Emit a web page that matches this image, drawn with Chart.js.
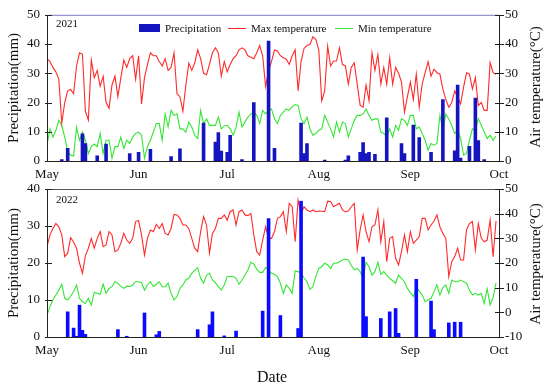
<!DOCTYPE html>
<html>
<head>
<meta charset="utf-8">
<script src="https://cdn.jsdelivr.net/npm/chart.js@4.4.1/dist/chart.umd.min.js"></script>
<style>
  body { margin: 0; background: #fff; }
  #wrap { position: relative; width: 550px; height: 387px; font-family: "Liberation Serif", "Times New Roman", serif; color: #111; }
  canvas { position: absolute; left: 0; top: 0; }
  .txt { position: absolute; white-space: nowrap; line-height: 1; }
  .rot { transform: translate(-50%, -50%) rotate(-90deg); font-size: 15px; }
  .leg { position: absolute; top: 22px; font-size: 11px; line-height: 12px; display: flex; align-items: center; }
  .box { display: inline-block; width: 21px; height: 8px; background: #1515c0; margin-right: 5px; }
  .ln { display: inline-block; width: 18px; height: 1px; margin-right: 5px; }
</style>
</head>
<body>
<div id="wrap">
  <canvas id="c21" width="550" height="387"></canvas>
  <canvas id="c22" width="550" height="387"></canvas>

  <div class="txt" style="left:56px;top:18px;font-size:11px;">2021</div>
  <div class="txt" style="left:56px;top:194px;font-size:11px;">2022</div>

  <div class="leg" style="left:139px;"><span class="box"></span>Precipitation</div>
  <div class="leg" style="left:228px;"><span class="ln" style="background:#ff2a2a"></span>Max temperature</div>
  <div class="leg" style="left:335px;"><span class="ln" style="background:#33e633"></span>Min temperature</div>

  <div class="txt rot" style="left:535px;top:87px;">Air temperature(°C)</div>
  <div class="txt rot" style="left:535px;top:264px;">Air temperature(°C)</div>
  <div class="txt" style="left:257px;top:369px;font-size:16px;">Date</div>
</div>

<script>
// x axis: day index from 1 May (0) to 1 Oct (153)
const monthTicks = [0, 31, 61, 92, 123, 153];
const monthLabels = ["May", "Jun", "Jul", "Aug", "Sep", "Oct"];

// 2021 daily max / min air temperature (°C), 1 May .. 30 Sep
const max21 = [35,34,32,30.5,28,13,20,24,24.5,23,
  32.5,37,36.5,17,14,34.5,28.5,31,25.5,29,
  20,18,26,29,22,28.5,34.5,32,35,36,
  28,36,19.5,28.5,33,37,36,36,34,32.5,
  35,31,32,37,23,22,17,26,33.5,31,
  33.5,38,35,30,29.5,33,37,38.7,37,29,
  34,30.5,33,35,36,38,38.7,38,36,35.5,
  35,37,39.5,36,25.5,31,34,38,37.6,36,
  35.3,34.8,33,36,38,24,34,38.5,39.5,39.8,
  42.5,41.5,38,20.6,24,39.3,32.5,34.2,34.2,38.7,
  33,32.5,26.3,32,33.6,26.3,19,18.4,26,20.6,
  37,31,36.4,26.3,32,26.3,35.3,26.3,32,30,
  27,16.7,22,27,21,29.7,18.4,26.3,30.2,34,
  29,31.4,30.2,29.7,24.6,21,18.4,20,24,21.8,
  19.5,25.2,30.2,29.7,24.6,28.5,19,20,17.3,17.3,
  33.6,30.2,29.7];
const min21 = [5.4,11,8.2,10.5,13.9,12.2,8.2,3.2,2,1.7,
  11.6,7.1,9.9,7.1,2.6,4.9,5.8,4.9,9.4,2.6,
  7.1,7.1,0.9,4.9,4.9,8.2,4.3,7.1,6,8.2,
  9.4,9.9,8.8,0.9,4.9,7.1,9.9,12.8,12.8,7.1,
  16.1,11.6,17.3,15.6,16.1,11,11,9.9,13.3,11.6,
  8.8,7.7,17.3,12.8,14.4,12.2,12.2,12.2,15,11,
  12,12.2,11,8.8,11.6,16.7,11.6,13.3,15,16,
  16.7,15.6,12.8,17.3,16.1,17.3,17.8,14.4,12.8,15.6,
  16.7,17.8,17.3,18.6,19.3,19,14.4,12.8,15,11,
  8.8,9.4,10.5,11,15.6,13.3,11,8.2,13.3,9.9,
  13.3,12.8,8.2,11,13.9,15.6,15.6,16.1,17.8,15.6,
  13.9,14.4,14.4,9.9,9.4,8.2,11,8.2,12.2,10.5,
  14.4,13.9,12.2,15.6,15.6,11,11.6,9.4,7.1,3.7,
  6,5.4,6,15.6,10.5,16.1,14.4,12.2,9.4,10.5,
  7.7,2,2.6,7.1,11,10.5,14.4,12.2,9.9,7.7,
  8.8,7.1,8.5];
// 2021 rain days (day index) and amounts (mm)
const rainDay21 = [5,7,12,13,17,20,28,31,35,42,45,53,57,58,59,61,62,66,70,75,77,86,87,88,94,101,102,106,107,108,109,111,115,120,121,124,126,130,134,138,139,140,143,145,146,148];
const rainMm21 = [0.5,4.3,9.3,6,1.8,5.8,2.5,3,4,1.5,4.2,13,6.5,9.7,3.4,3,8.8,0.5,20,41,4.3,13,2.5,6,0.3,0.3,1.8,3,6.3,2.5,3,2.3,14.8,6,2.5,12.3,8,3,21,3.5,26,1,5,21.5,7,0.5];

// 2022
const max22 = [26.6,31.4,34,36,34.7,31.4,22.6,24,30.3,28.5,
  26,20,15.8,23,26,30,26,30,32.7,26.6,
  27.3,32.7,31.4,24.6,25.3,28,32,29.3,28,30,
  36.8,37.2,31.4,23.2,30,33.4,32.7,35.7,34,36,
  32,31.4,34,39.7,39.5,38.1,35.4,35.4,34,30,
  26,24.6,32.7,38.8,35.4,24,32,34,38.1,38.1,
  39.5,37.4,40.8,41.5,35.4,40.8,41.5,39.5,39.2,40.1,
  31.4,24.6,23.2,29.3,34.7,30,30,32.7,38.1,38.8,
  40.8,32.7,44.2,42.8,28.6,45.5,40.1,42.8,41.5,40.8,
  41.5,40.8,41.1,41,40.8,45.1,44.9,42.8,43.5,44.2,
  41.5,40.8,41.1,42.8,44.2,25.3,33.4,39.5,32.7,28.6,
  34.7,35.4,41.5,28.6,36.8,20.5,30,30.7,21.9,19.2,
  24.6,31.4,24.6,32.7,28,29.3,30.7,38.1,38.1,33.4,
  35.4,37,39.5,34.7,32,30,14.5,20.5,22.6,26,
  21.2,21.2,33.4,36,36.8,25.3,36,30,28.6,29.3,
  37.4,22.6,37];
const min22 = [-1.1,2.3,5,7,9,11.4,5.7,5,6.5,8.4,
  11.1,5.7,4.3,3.6,5.7,3,8.1,7.7,7.3,11.4,
  7.7,9.7,10.4,12.4,11.8,10.4,9.7,10.6,10.4,11.1,
  12.4,12.4,12,9,11.1,12.4,10.4,11.4,12.4,10.4,
  10.4,11.8,7.7,5,6.4,9.7,11.1,13.1,13.8,15.8,
  17,18.1,13.8,11.8,15.1,15.8,13.1,12,10.4,9,
  11.1,14.5,14.5,14.5,13.8,11.4,13.1,15.1,17.2,20.3,
  19.6,17.5,16.2,16.2,18.2,16.8,15.8,15.4,14.5,11.8,
  7.7,11.1,9.7,7.7,16.8,16.5,15.8,14,12.4,9.3,
  10.4,14.5,17.8,18.5,19.9,19.2,17.8,19.9,19.9,20.5,
  21.2,21.6,21.2,19,17.2,17.8,16.5,13.8,20.3,18.5,
  15.1,16.5,20.3,15.4,16.5,15.1,13.8,12.8,11.8,15.1,
  13.8,12.4,9.7,8,6.4,10.4,8.5,7,4.3,5,
  5.7,8.4,11.1,7,10,11.1,7.7,13.1,12.4,12.4,
  13.1,12.4,11.8,9,7,7.7,7,7.7,3.6,9.5,
  3,6,12];
const rainDay22 = [7,9,10,11,12,13,24,27,33,37,38,51,55,56,60,64,73,75,79,85,86,107,108,113,116,118,119,125,130,131,136,138,140];
const rainMm22 = [6.8,2.4,0.2,8.6,1.8,0.7,2,0.2,6.5,0.6,1.5,2,3.3,6.8,0.3,1.6,7,32,5.8,2.3,36.7,21.6,5.5,5,6.8,7.7,1,15.6,9.7,2,3.8,4,4];

const serif = "'Liberation Serif', 'Times New Roman', serif";

// frame round the plot area plus small tick marks on both y axes
const framePlugin = {
  id: "frame",
  afterDraw(chart, args, opts) {
    const { ctx, chartArea: a } = chart;
    ctx.save();
    ctx.lineWidth = 1;
    ctx.strokeStyle = opts.color;
    ctx.beginPath();
    ctx.moveTo(a.left + 0.5, a.top + 0.5);
    ctx.lineTo(a.left + 0.5, a.bottom + 0.5);
    ctx.lineTo(a.right + 0.5, a.bottom + 0.5);
    ctx.lineTo(a.right + 0.5, a.top + 0.5);
    ctx.stroke();
    ctx.strokeStyle = opts.topColor;
    ctx.beginPath();
    ctx.moveTo(a.left, a.top + 0.5);
    ctx.lineTo(a.right + 1, a.top + 0.5);
    ctx.stroke();
    ctx.strokeStyle = opts.color;
    ["y", "y1"].forEach(id => {
      const s = chart.scales[id];
      s.ticks.forEach(t => {
        const py = Math.round(s.getPixelForValue(t.value)) + 0.5;
        ctx.beginPath();
        if (id === "y") { ctx.moveTo(a.left - 2, py); ctx.lineTo(a.left + 5, py); }
        else { ctx.moveTo(a.right - 4, py); ctx.lineTo(a.right + 5, py); }
        ctx.stroke();
      });
    });
    ctx.restore();
  }
};

function makeChart(id, cfg) {
  const lineData = arr => arr.map((v, i) => ({ x: i, y: v }));
  const barData = rainDay => rainDay.map((d, i) => ({ x: d, y: cfg.rain[i] }));
  return new Chart(document.getElementById(id), {
    type: "bar",
    data: {
      datasets: [
        { type: "bar", label: "Precipitation", data: barData(cfg.rainDay), yAxisID: "y",
          backgroundColor: cfg.barColor, barPercentage: 1, categoryPercentage: 1, order: 0 },
        { type: "line", label: "Max temperature", data: lineData(cfg.max), yAxisID: "y1",
          borderColor: "#ff2a2a", borderWidth: 1.1, pointRadius: 0, tension: 0, order: 1 },
        { type: "line", label: "Min temperature", data: lineData(cfg.min), yAxisID: "y1",
          borderColor: "#33e633", borderWidth: 1.1, pointRadius: 0, tension: 0, order: 2 }
      ]
    },
    options: {
      responsive: false,
      animation: false,
      events: [],
      layout: { padding: cfg.padding },
      plugins: {
        legend: { display: false },
        tooltip: { enabled: false },
        frame: { color: "#222", topColor: cfg.topColor }
      },
      scales: {
        x: {
          type: "linear", min: 0, max: 153, offset: false,
          grid: { display: false, drawTicks: false },
          border: { display: false },
          afterBuildTicks: ax => { ax.ticks = monthTicks.map(v => ({ value: v })); },
          afterFit: ax => { ax.height = 24; },
          ticks: { padding: 6, color: "#111", font: { family: serif, size: 13 }, maxRotation: 0, autoSkip: false,
            callback: v => monthLabels[monthTicks.indexOf(v)] }
        },
        y: {
          position: "left", min: 0, max: cfg.rainMax,
          grid: { display: false, drawTicks: false },
          border: { display: false },
          afterFit: ax => { ax.width = 47; },
          ticks: { stepSize: 10, padding: 7, color: "#111", font: { family: serif, size: 13 } },
          title: { display: true, text: "Precipitation(mm)", color: "#111", padding: { top: 5, bottom: 0 },
            font: { family: serif, size: 15 } }
        },
        y1: {
          position: "right", min: cfg.tMin, max: 50,
          grid: { display: false, drawTicks: false },
          border: { display: false },
          afterFit: ax => { ax.width = 51; },
          ticks: { stepSize: 10, padding: 6, color: "#111", font: { family: serif, size: 13 } }
        }
      }
    },
    plugins: [framePlugin]
  });
}

makeChart("c21", {
  max: max21, min: min21, rainDay: rainDay21, rain: rainMm21,
  rainMax: 50, tMin: 0, barColor: "#1515c0", topColor: "#7a7ac4",
  padding: { top: 13, bottom: 202, left: 0, right: 0 }
});
makeChart("c22", {
  max: max22, min: min22, rainDay: rainDay22, rain: rainMm22,
  rainMax: 40, tMin: -10, barColor: "#0a0aff", topColor: "#555",
  padding: { top: 189, bottom: 26, left: 0, right: 0 }
});
</script>
</body>
</html>
